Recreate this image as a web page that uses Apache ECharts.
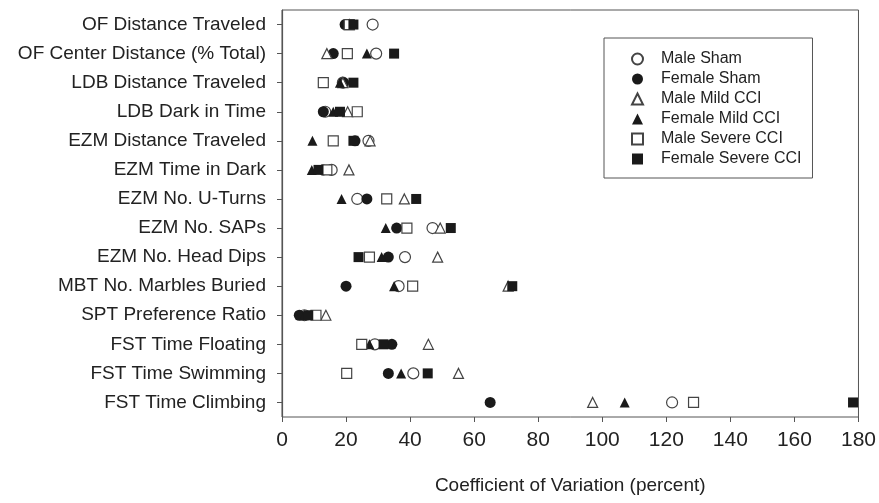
<!DOCTYPE html>
<html>
<head>
<meta charset="utf-8">
<script src="https://cdn.jsdelivr.net/npm/echarts@6/dist/echarts.min.js"></script>
<style>
  html, body { margin: 0; padding: 0; background: #fff; }
  #chart { width: 879px; height: 503px; }
</style>
</head>
<body>
<div id="chart"></div>
<script>
// 行为测试项目（从上到下）
const tests = [
    'OF Distance Traveled', 'OF Center Distance (% Total)', 'LDB Distance Traveled',
    'LDB Dark in Time', 'EZM Distance Traveled', 'EZM Time in Dark', 'EZM No. U-Turns',
    'EZM No. SAPs', 'EZM No. Head Dips', 'MBT No. Marbles Buried', 'SPT Preference Ratio',
    'FST Time Floating', 'FST Time Swimming', 'FST Time Climbing'
]

const xTicks = [0, 20, 40, 60, 80, 100, 120, 140, 160, 180]

// 各组的变异系数 (%)
const maleSham = [28.3, 29.4, 19, 13.5, 27, 15.5, 23.5, 47, 38.4, 36.4, 7, 29, 41, 121.8]
const femaleSham = [19.7, 16, 19.2, 12.9, 22.8, 12.9, 26.5, 35.8, 33.2, 20, 5.4, 34.3, 33.2, 65]
const maleMild = [21, 14, 19, 20.5, 27.5, 20.9, 38.2, 49.4, 48.6, 70.6, 13.7, 45.7, 55.1, 97]
const femaleMild = [21, 26.5, 18.1, 16, 9.5, 9.3, 18.6, 32.4, 31.1, 35, 7, 27.3, 37.2, 107]
const maleSevere = [21, 20.4, 12.9, 23.5, 16, 14, 32.7, 39, 27.3, 40.8, 10.6, 24.9, 20.2, 128.5]
const femaleSevere = [22.3, 35, 22.3, 18.1, 22.3, 11.4, 41.9, 52.7, 23.9, 71.9, 8.2, 31.7, 45.5, 178.3]

const ink = '#1a1a1a'

function makeSeries(name, values, symbol, filled) {
    return {
        name: name,
        type: 'scatter',
        symbol: symbol,
        symbolSize: symbol === 'circle' ? 11 : 10,
        data: values.map((v, i) => [v, tests[i]]),
        itemStyle: {
            color: filled ? ink : '#fff',
            borderColor: filled ? ink : '#444',
            borderWidth: filled ? 0 : 1.2,
            opacity: 1
        },
        emphasis: { disabled: true }
    }
}

const myChart = echarts.init(document.querySelector('#chart'))

const option = {
    animation: false,
    textStyle: { fontFamily: 'Liberation Sans, Arial, sans-serif' },
    grid: {
        left: 282,
        right: 19,
        top: 10,
        bottom: 86,
        show: true,
        borderColor: '#555',
        borderWidth: 1
    },
    legend: {
        orient: 'vertical',
        left: 604,
        top: 38,
        padding: [13, 11, 11, 27],
        itemWidth: 11,
        itemHeight: 11,
        itemGap: 4,
        borderColor: '#555',
        borderWidth: 1,
        textStyle: { fontSize: 16, color: '#222', padding: [0, 0, 0, 13] },
        data: ['Male Sham', 'Female Sham', 'Male Mild CCI', 'Female Mild CCI', 'Male Severe CCI', 'Female Severe CCI']
    },
    xAxis: {
        type: 'value',
        min: 0,
        max: 180,
        interval: 20,
        name: 'Coefficient of Variation (percent)',
        nameLocation: 'middle',
        nameGap: 59,
        nameTextStyle: { fontSize: 19, color: '#222' },
        axisLine: { lineStyle: { color: '#555', width: 1.2 } },
        axisTick: { show: true, length: 5, lineStyle: { color: '#555' } },
        axisLabel: {
            fontSize: 21,
            color: '#222',
            margin: 13,
            formatter: v => xTicks.includes(v) ? String(v) : ''
        },
        splitLine: { show: false }
    },
    yAxis: {
        type: 'category',
        data: tests,
        inverse: true,
        boundaryGap: true,
        axisLine: { lineStyle: { color: '#555', width: 1.2 } },
        axisTick: { show: true, length: 5, alignWithLabel: true, lineStyle: { color: '#555' } },
        axisLabel: { fontSize: 19, color: '#222', margin: 16 },
        splitLine: { show: false }
    },
    series: [
        makeSeries('Male Sham', maleSham, 'circle', false),
        makeSeries('Female Sham', femaleSham, 'circle', true),
        makeSeries('Male Mild CCI', maleMild, 'triangle', false),
        makeSeries('Female Mild CCI', femaleMild, 'triangle', true),
        makeSeries('Male Severe CCI', maleSevere, 'rect', false),
        makeSeries('Female Severe CCI', femaleSevere, 'rect', true)
    ]
}

myChart.setOption(option)
</script>
</body>
</html>
